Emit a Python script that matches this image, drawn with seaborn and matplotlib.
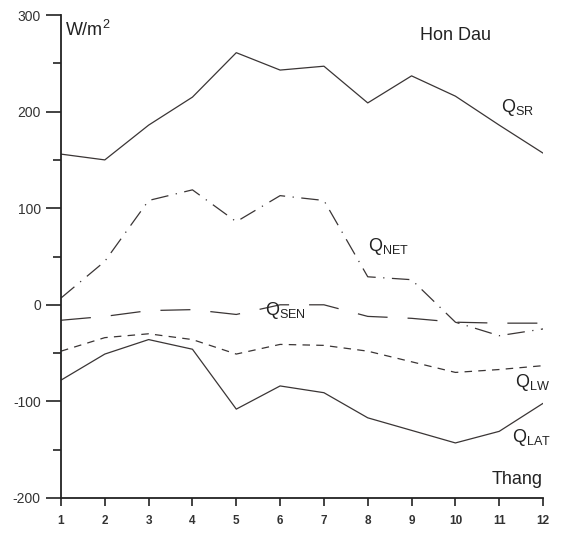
import numpy as np
import pandas as pd
import matplotlib
matplotlib.use('Agg')
import matplotlib.pyplot as plt
from matplotlib.ticker import MultipleLocator
import seaborn as sns

# Monthly heat flux components at Hon Dau (W/m2)
months = list(range(1, 13))
q_sr = [156, 150, 186, 215, 261, 243, 247, 209, 237, 216, 186, 157]
q_net = [7, 45, 108, 119, 86, 113, 108, 29, 26, -18, -32, -25]
q_sen = [-16, -12, -6, -5, -10, 0, 0, -12, -14, -18, -19, -19]
q_lw = [-48, -34, -30, -36, -51, -41, -42, -48, -59, -70, -67, -63]
q_lat = [-78, -51, -36, -46, -108, -84, -91, -117, -130, -143, -131, -102]

series = {'SR': q_sr, 'NET': q_net, 'SEN': q_sen, 'LW': q_lw, 'LAT': q_lat}
dash_styles = {'SR': '', 'NET': (14, 6, 1, 6), 'SEN': (24, 16), 'LW': (6, 5), 'LAT': ''}

df = pd.DataFrame([
    {'month': m, 'value': v, 'name': k}
    for k, vals in series.items() for m, v in zip(months, vals)
])

sns.set_style('ticks')
plt.rcParams['font.family'] = ['Liberation Sans', 'DejaVu Sans']
plt.rcParams['mathtext.fontset'] = 'custom'
plt.rcParams['mathtext.rm'] = 'Liberation Sans'

fig = plt.figure(figsize=(5.61, 5.36), dpi=100)
ax = fig.add_axes([0.1087, 0.0709, 0.8593, 0.9011])

line_color = '#3a3535'
sns.lineplot(data=df, x='month', y='value', style='name', dashes=dash_styles,
             color=line_color, linewidth=0.9, legend=False, ax=ax)

ax.set_xlim(1, 12)
ax.set_ylim(-200, 300)
ax.set_xticks(months)
ax.set_xticklabels([str(m) for m in months], fontsize=8.5, fontweight='bold', color='#333')
ax.set_yticks([-200, -100, 0, 100, 200, 300])
ax.set_yticklabels(['-200', '-100', '0', '100', '200', '300'], fontsize=10, color='#333')
ax.yaxis.set_minor_locator(MultipleLocator(50))
ax.tick_params(axis='y', which='major', length=11, width=1.2, direction='out', color='#222')
ax.tick_params(axis='y', which='minor', length=6, width=1.2, direction='out', color='#222')
ax.tick_params(axis='x', which='major', length=6, width=1.2, direction='out', color='#222', pad=6)
sns.despine(ax=ax)
for s in ['left', 'bottom']:
    ax.spines[s].set_linewidth(1.3)
    ax.spines[s].set_color('#222')
ax.set_xlabel('')
ax.set_ylabel('')

txt = dict(color='#222', fontsize=13)
ax.text(1.1, 285, r'W/m$^{\mathregular{2}}$', ha='left', va='center', **txt)
ax.text(10.0, 279, 'Hon Dau', ha='center', va='center', **txt)
ax.text(11.05, 204, r'$\mathregular{Q_{SR}}$', ha='left', va='center', **txt)
ax.text(8.0, 60, r'$\mathregular{Q_{NET}}$', ha='left', va='center', **txt)
ax.text(5.65, -6, r'$\mathregular{Q_{SEN}}$', ha='left', va='center', **txt)
ax.text(11.35, -80, r'$\mathregular{Q_{LW}}$', ha='left', va='center', **txt)
ax.text(11.3, -137, r'$\mathregular{Q_{LAT}}$', ha='left', va='center', **txt)
ax.text(12, -190, 'Thang', ha='right', va='bottom', **txt)

fig.savefig('out.png', dpi=100)
